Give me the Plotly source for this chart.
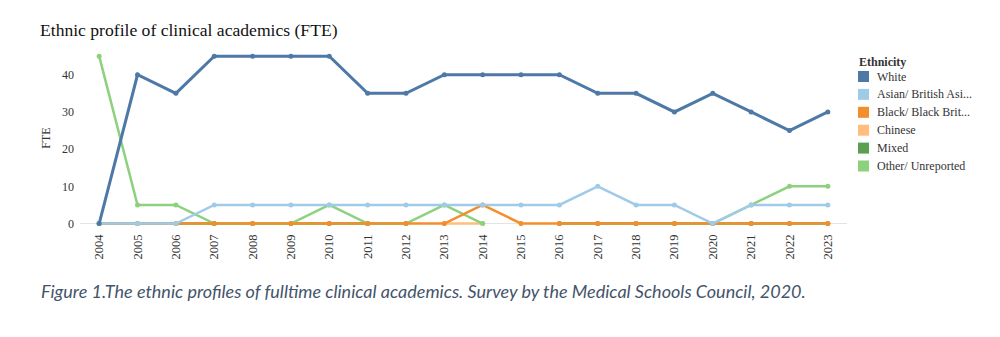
import plotly.graph_objects as go

years = [str(y) for y in range(2004, 2024)]
white = [0, 40, 35, 45, 45, 45, 45, 35, 35, 40, 40, 40, 40, 35, 35, 30, 35, 30, 25, 30]
asian = [0, 0, 0, 5, 5, 5, 5, 5, 5, 5, 5, 5, 5, 10, 5, 5, 0, 5, 5, 5]
black = [0, 0, 0, 0, 0, 0, 0, 0, 0, 0, 5, 0, 0, 0, 0, 0, 0, 0, 0, 0]
chinese = [None] * 9 + [0, 0] + [None] * 9
mixed = [0] * 9 + [None, None, None] + [0] * 8
other = [45, 5, 5, 0, 0, 0, 5, 0, 0, 5, 0, None, None, None, None, None, 0, 5, 10, 10]

series_names = ["White", "Asian/ British Asi...", "Black/ Black Brit...", "Chinese", "Mixed", "Other/ Unreported"]
colors = ["#4e79a7", "#a0cbe8", "#f28e2b", "#ffbe7d", "#59a14f", "#8cd17d"]
series = [white, asian, black, chinese, mixed, other]

W, H = 1000, 337
L, R, T, B = 80, 153, 45, 106
PW, PH = W - L - R, H - T - B


def px_x(px):
    return (px - L) / PW


def px_y(py):
    return (H - B - py) / PH


fig = go.Figure()
draw_order = [4, 3, 5, 2, 1, 0]  # bottom -> top
for i in draw_order:
    fig.add_trace(go.Scatter(
        x=years, y=series[i], mode="lines+markers",
        line=dict(color=colors[i], width=3 if i == 0 else 2.5),
        marker=dict(color=colors[i], size=5),
        showlegend=False, hoverinfo="skip", connectgaps=False))

serif = "Liberation Serif, Times New Roman, serif"

shapes = []
annotations = []
# manual legend
annotations.append(dict(text="<b>Ethnicity</b>", xref="paper", yref="paper",
                        x=px_x(857), y=px_y(62), xanchor="left", yanchor="middle",
                        showarrow=False, font=dict(family=serif, size=12, color="#333")))
for k, (name, col) in enumerate(zip(series_names, colors)):
    cy = 76.5 + 17.9 * k
    shapes.append(dict(type="rect", xref="paper", yref="paper",
                       x0=px_x(858), x1=px_x(869), y0=px_y(cy - 5.5), y1=px_y(cy + 5.5),
                       fillcolor=col, line=dict(width=0)))
    annotations.append(dict(text=name, xref="paper", yref="paper",
                            x=px_x(875), y=px_y(cy), xanchor="left", yanchor="middle",
                            showarrow=False, font=dict(family=serif, size=12, color="#333")))

annotations.append(dict(
    text="Figure 1.The ethnic profiles of fulltime clinical academics. Survey by the Medical Schools Council, 2020.",
    xref="paper", yref="paper", x=px_x(39), y=px_y(291), xanchor="left", yanchor="middle",
    showarrow=False, font=dict(family="Lato, Carlito, sans-serif", size=18, color="#44546a", style="italic")))

fig.update_layout(
    width=W, height=H,
    margin=dict(l=L, r=R, t=T, b=B),
    paper_bgcolor="white", plot_bgcolor="white",
    showlegend=False,
    title=dict(text="Ethnic profile of clinical academics (FTE)",
               font=dict(family=serif, size=17.6, color="#111"),
               xref="container", x=0.04, xanchor="left",
               yref="container", y=1 - 30 / H, yanchor="middle"),
    font=dict(family=serif, color="#333"),
    xaxis=dict(type="category", range=[-0.5, 19.5], tickangle=-90,
               showgrid=False, zeroline=False, showline=False,
               tickfont=dict(family=serif, size=12.5, color="#333")),
    yaxis=dict(range=[-2, 48], tickvals=[0, 10, 20, 30, 40],
               showgrid=False, zeroline=True, zerolinecolor="#e3e3e3", zerolinewidth=1,
               showline=False, ticklabelstandoff=5,
               tickfont=dict(family=serif, size=12, color="#333"),
               title=dict(text="FTE", font=dict(family=serif, size=12, color="#333"), standoff=8)),
    shapes=shapes,
    annotations=annotations,
)

fig.write_html("out.html")
